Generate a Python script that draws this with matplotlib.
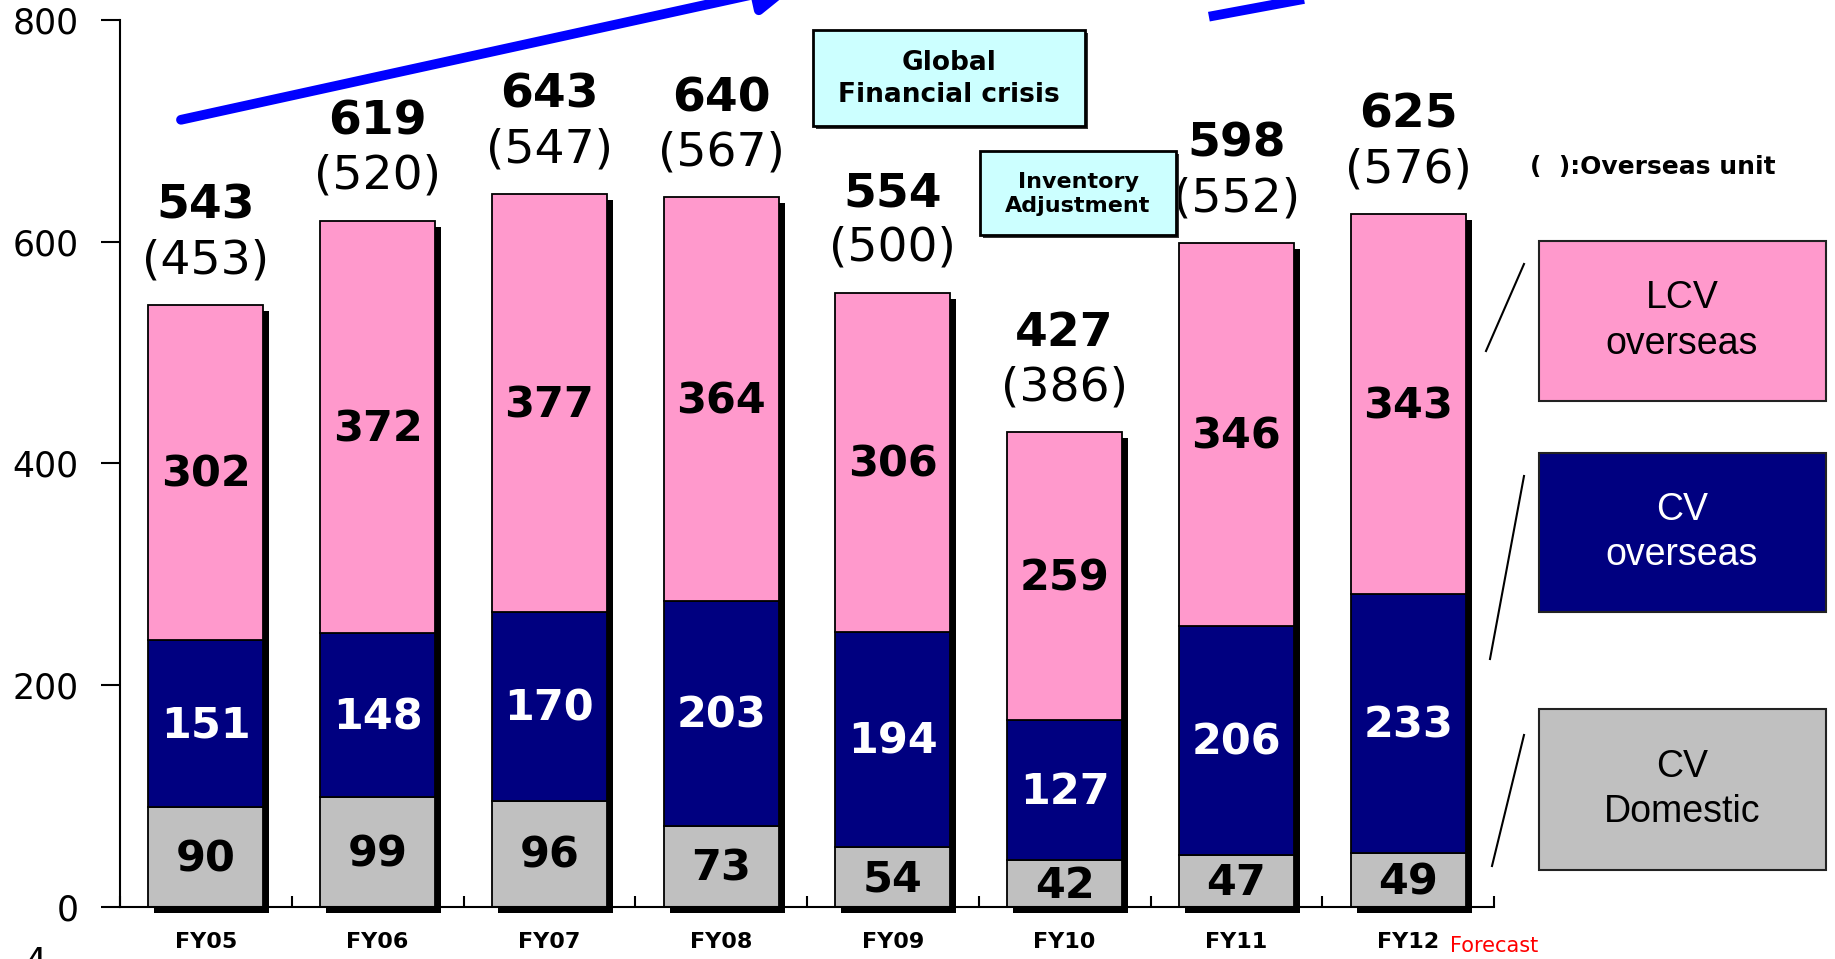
import numpy as np
import matplotlib
matplotlib.use("Agg")
from matplotlib import pyplot as plt
from matplotlib import transforms
from matplotlib.patches import Rectangle
from matplotlib.lines import Line2D

W, H = 1835, 959  # px

years = ["FY05", "FY06", "FY07", "FY08", "FY09", "FY10", "FY11", "FY12"]
cvDomestic = [90, 99, 96, 73, 54, 42, 47, 49]
cvOverseas = [151, 148, 170, 203, 194, 127, 206, 233]
lcvOverseas = [302, 372, 377, 364, 306, 259, 346, 343]
totals = [543, 619, 643, 640, 554, 427, 598, 625]
overseasTotals = [453, 520, 547, 567, 500, 386, 552, 576]
yTicks = [0, 200, 400, 600, 800]

PINK = "#FF99CC"
NAVY = "#000080"
GRAY = "#C0C0C0"
CYAN = "#CCFFFF"


def fx(px):
    return px / W


def fy(py):
    return 1 - py / H


def figBox(x0, y0, x1, y1, face, edge="black", lw=2, shadow=False):
    if shadow:
        fig.add_artist(Rectangle((fx(x0 + 3), fy(y1 + 3)), (x1 - x0) / W, (y1 - y0) / H,
                                 transform=fig.transFigure, facecolor="#333333",
                                 edgecolor="none"))
    fig.add_artist(Rectangle((fx(x0), fy(y1)), (x1 - x0) / W, (y1 - y0) / H,
                             transform=fig.transFigure, facecolor=face,
                             edgecolor=edge, linewidth=lw))


fig = plt.figure(figsize=(W / 100, H / 100), dpi=100)
ax = fig.add_axes([fx(120), fy(907), (1494 - 120) / W, (907 - 20) / H])

x = np.arange(len(years))
BAR_W = 0.67
stackTop = np.array(cvDomestic) + np.array(cvOverseas) + np.array(lcvOverseas)

# drop shadow behind each column
shadow = ax.bar(x, stackTop, width=BAR_W, color="black", zorder=1)
off = transforms.offset_copy(ax.transData, fig=fig, x=6, y=-6, units="dots")
for p in shadow:
    p.set_transform(off)
    p.set_clip_on(False)

bottoms = np.zeros(len(years))
for vals, col, txtCol in [(cvDomestic, GRAY, "black"),
                          (cvOverseas, NAVY, "white"),
                          (lcvOverseas, PINK, "black")]:
    ax.bar(x, vals, BAR_W, bottom=bottoms, color=col, edgecolor="black",
           linewidth=1.3, zorder=2)
    for xi, b, v in zip(x, bottoms, vals):
        ax.text(xi, b + v / 2 - 2, str(v), ha="center", va="center", color=txtCol,
                fontsize=31, fontweight="bold", zorder=3)
    bottoms += np.array(vals)

for xi, top, t, o in zip(x, stackTop, totals, overseasTotals):
    ax.text(xi, top + 89, str(t), ha="center", va="center", fontsize=34,
            fontweight="bold", zorder=3)
    ax.text(xi, top + 40, "(%d)" % o, ha="center", va="center", fontsize=34,
            zorder=3)

ax.set_xlim(-0.5, len(years) - 0.5)
ax.set_ylim(0, 800)
for s in ["top", "right"]:
    ax.spines[s].set_visible(False)
ax.spines["left"].set_linewidth(1.5)
ax.spines["bottom"].set_linewidth(1.5)
ax.spines["bottom"].set_zorder(4)

ax.set_yticks(yTicks)
ax.tick_params(axis="y", direction="out", length=14, width=1.5, pad=16, labelsize=25)
ax.set_xticks(x)
ax.set_xticklabels(years, fontweight="bold", fontsize=16)
ax.tick_params(axis="x", which="major", length=0, pad=18)
ax.set_xticks(np.arange(-0.5, len(years), 1), minor=True)
ax.tick_params(axis="x", which="minor", direction="in", length=8, width=1.5)

# trend arrows
ax.annotate("", xy=(3.45, 832), xytext=(-0.145, 710), annotation_clip=False,
            arrowprops=dict(arrowstyle="-|>", color="#0000FF", lw=7,
                            mutation_scale=60, shrinkA=0, shrinkB=0))
ax.plot([5.84, 6.5], [803, 822], color="#0000FF", lw=7, solid_capstyle="butt",
        clip_on=False)

# event boxes
figBox(813, 30, 1085, 126, CYAN, shadow=True)
fig.text(fx(949), fy(79), "Global\nFinancial crisis", ha="center", va="center",
         fontweight="bold", fontsize=19, linespacing=1.25)
figBox(980, 151, 1176, 235, CYAN, shadow=True)
fig.text(fx(1078), fy(194), "Inventory\nAdjustment", ha="center", va="center",
         fontweight="bold", fontsize=16, linespacing=1.3)

fig.text(fx(1653), fy(167), "(  ):Overseas unit", ha="center", va="center",
         fontweight="bold", fontsize=18)

# legend boxes
legend = [("LCV\noverseas", PINK, "black", 241, 401, (1486, 351, 1524, 264)),
          ("CV\noverseas", NAVY, "white", 453, 612, (1490, 659, 1524, 476)),
          ("CV\nDomestic", GRAY, "black", 709, 870, (1492, 866, 1524, 735))]
for label, face, tc, y0, y1, ln in legend:
    figBox(1539, y0, 1826, y1, face, edge="#222222", lw=1.5)
    fig.text(fx(1682), fy((y0 + y1) / 2), label, ha="center", va="center",
             family="Liberation Sans", fontsize=27, color=tc, linespacing=1.35)
    fig.add_artist(Line2D([fx(ln[0]), fx(ln[2])], [fy(ln[1]), fy(ln[3])],
                          transform=fig.transFigure, color="black", lw=1.5))

fig.text(fx(1494), fy(946), "Forecast", ha="center", va="center",
         fontsize=15, color="red")
fig.text(fx(24), fy(946), "4", ha="left", va="top", fontsize=25)

fig.savefig("out.png", dpi=100)
